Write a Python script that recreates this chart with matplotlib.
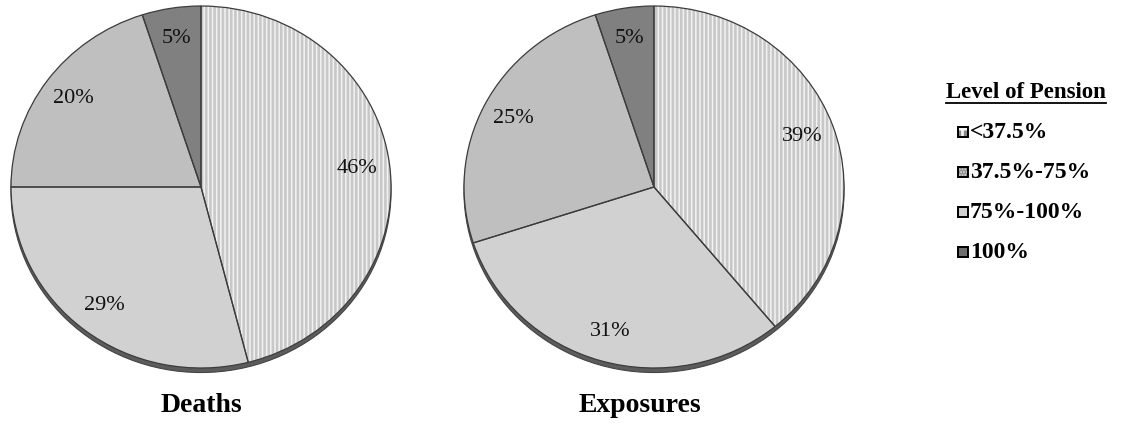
import matplotlib
matplotlib.use("Agg")
import matplotlib.pyplot as plt
from matplotlib.patches import Ellipse, Rectangle

# Shares of deaths and exposures by level of pension (percent)
categories = ["<37.5%", "37.5%-75%", "75%-100%", "100%"]
deaths = [46, 29, 20, 5]
exposures = [39, 31, 25, 5]
panel_titles = ["Deaths", "Exposures"]
legend_title = "Level of Pension"

W, H = 1121, 428
SERIF = ["Liberation Serif", "DejaVu Serif"]

face_colors = ["#f2f2f2", "#d1d1d1", "#bfbfbf", "#808080"]
hatches = ["||||", None, None, None]
hatch_colors = ["#c8c8c8", None, None, None]
legend_faces = ["#8a8a8a", "#d6d6d6", "#d0d0d0", "#6f6f6f"]
legend_hatches = ["++", "......", None, None]
legend_hatch_colors = ["#f4f4f4", "#8c8c8c", None, None]

plt.rcParams["hatch.linewidth"] = 1.9

fig = plt.figure(figsize=(W / 100, H / 100), dpi=100)


def pixel_axes(cx, cy, rx, ry):
    return fig.add_axes([(cx - rx) / W, 1 - (cy + ry) / H, 2 * rx / W, 2 * ry / H])


def draw_pie(ax, values):
    # drop shadow rim under the pie
    ax.add_patch(Ellipse((0, -0.025), 2.0, 2.0, facecolor="#5c5c5c",
                         edgecolor="#444444", lw=0.8, zorder=0, clip_on=False))
    wedges, _, autotexts = ax.pie(
        values, colors=face_colors, startangle=90, counterclock=False,
        autopct=lambda p: f"{round(p)}%", pctdistance=0.83,
        wedgeprops=dict(linewidth=0),
        textprops=dict(fontfamily=SERIF, fontsize=16, color="#111111"))
    for w, h, hc in zip(wedges, hatches, hatch_colors):
        if h:
            w.set_hatch(h)
            w.set_edgecolor(hc)
        w.set_zorder(1)
        w.set_clip_on(False)
    outlines, _ = ax.pie(values, colors=["none"] * len(values), startangle=90,
                         counterclock=False,
                         wedgeprops=dict(linewidth=0.9, edgecolor="#3c3c3c"))
    for w in outlines:
        w.set_zorder(2)
        w.set_clip_on(False)
    for t in autotexts:
        t.set_zorder(3)
    ax.set_aspect("auto")
    ax.set_xlim(-1, 1)
    ax.set_ylim(-1, 1)
    ax.axis("off")


ax1 = pixel_axes(201, 187, 190, 181)
draw_pie(ax1, deaths)
ax2 = pixel_axes(654, 187, 190, 181)
draw_pie(ax2, exposures)

# Overlay in pixel coordinates for titles and legend
ov = fig.add_axes([0, 0, 1, 1], zorder=5)
ov.set_xlim(0, W)
ov.set_ylim(H, 0)
ov.axis("off")

for x, title in zip([201, 640], panel_titles):
    ov.text(x, 405, title, ha="center", va="center", fontfamily=SERIF,
            fontsize=20, fontweight="bold")

lt = ov.text(1026, 92, legend_title, ha="center", va="center",
             fontfamily=SERIF, fontsize=16.5, fontweight="bold")
fig.canvas.draw()
bb = lt.get_window_extent().transformed(ov.transData.inverted())
ov.plot([bb.x0, bb.x1], [103, 103], color="black", lw=1.3)

for i, (name, fc, hh, hc) in enumerate(zip(categories, legend_faces,
                                             legend_hatches, legend_hatch_colors)):
    y = 132 + i * 40
    fill = Rectangle((958, y - 5), 10, 10, facecolor=fc, lw=0)
    if hh:
        fill.set_hatch(hh)
        fill.set_edgecolor(hc)
    ov.add_patch(fill)
    ov.add_patch(Rectangle((958, y - 5), 10, 10, facecolor="none",
                           edgecolor="black", lw=1.4))
    ov.text(970, y, name, ha="left", va="center", fontfamily=SERIF,
            fontsize=17, fontweight="bold")

fig.savefig("out.png", dpi=100)
